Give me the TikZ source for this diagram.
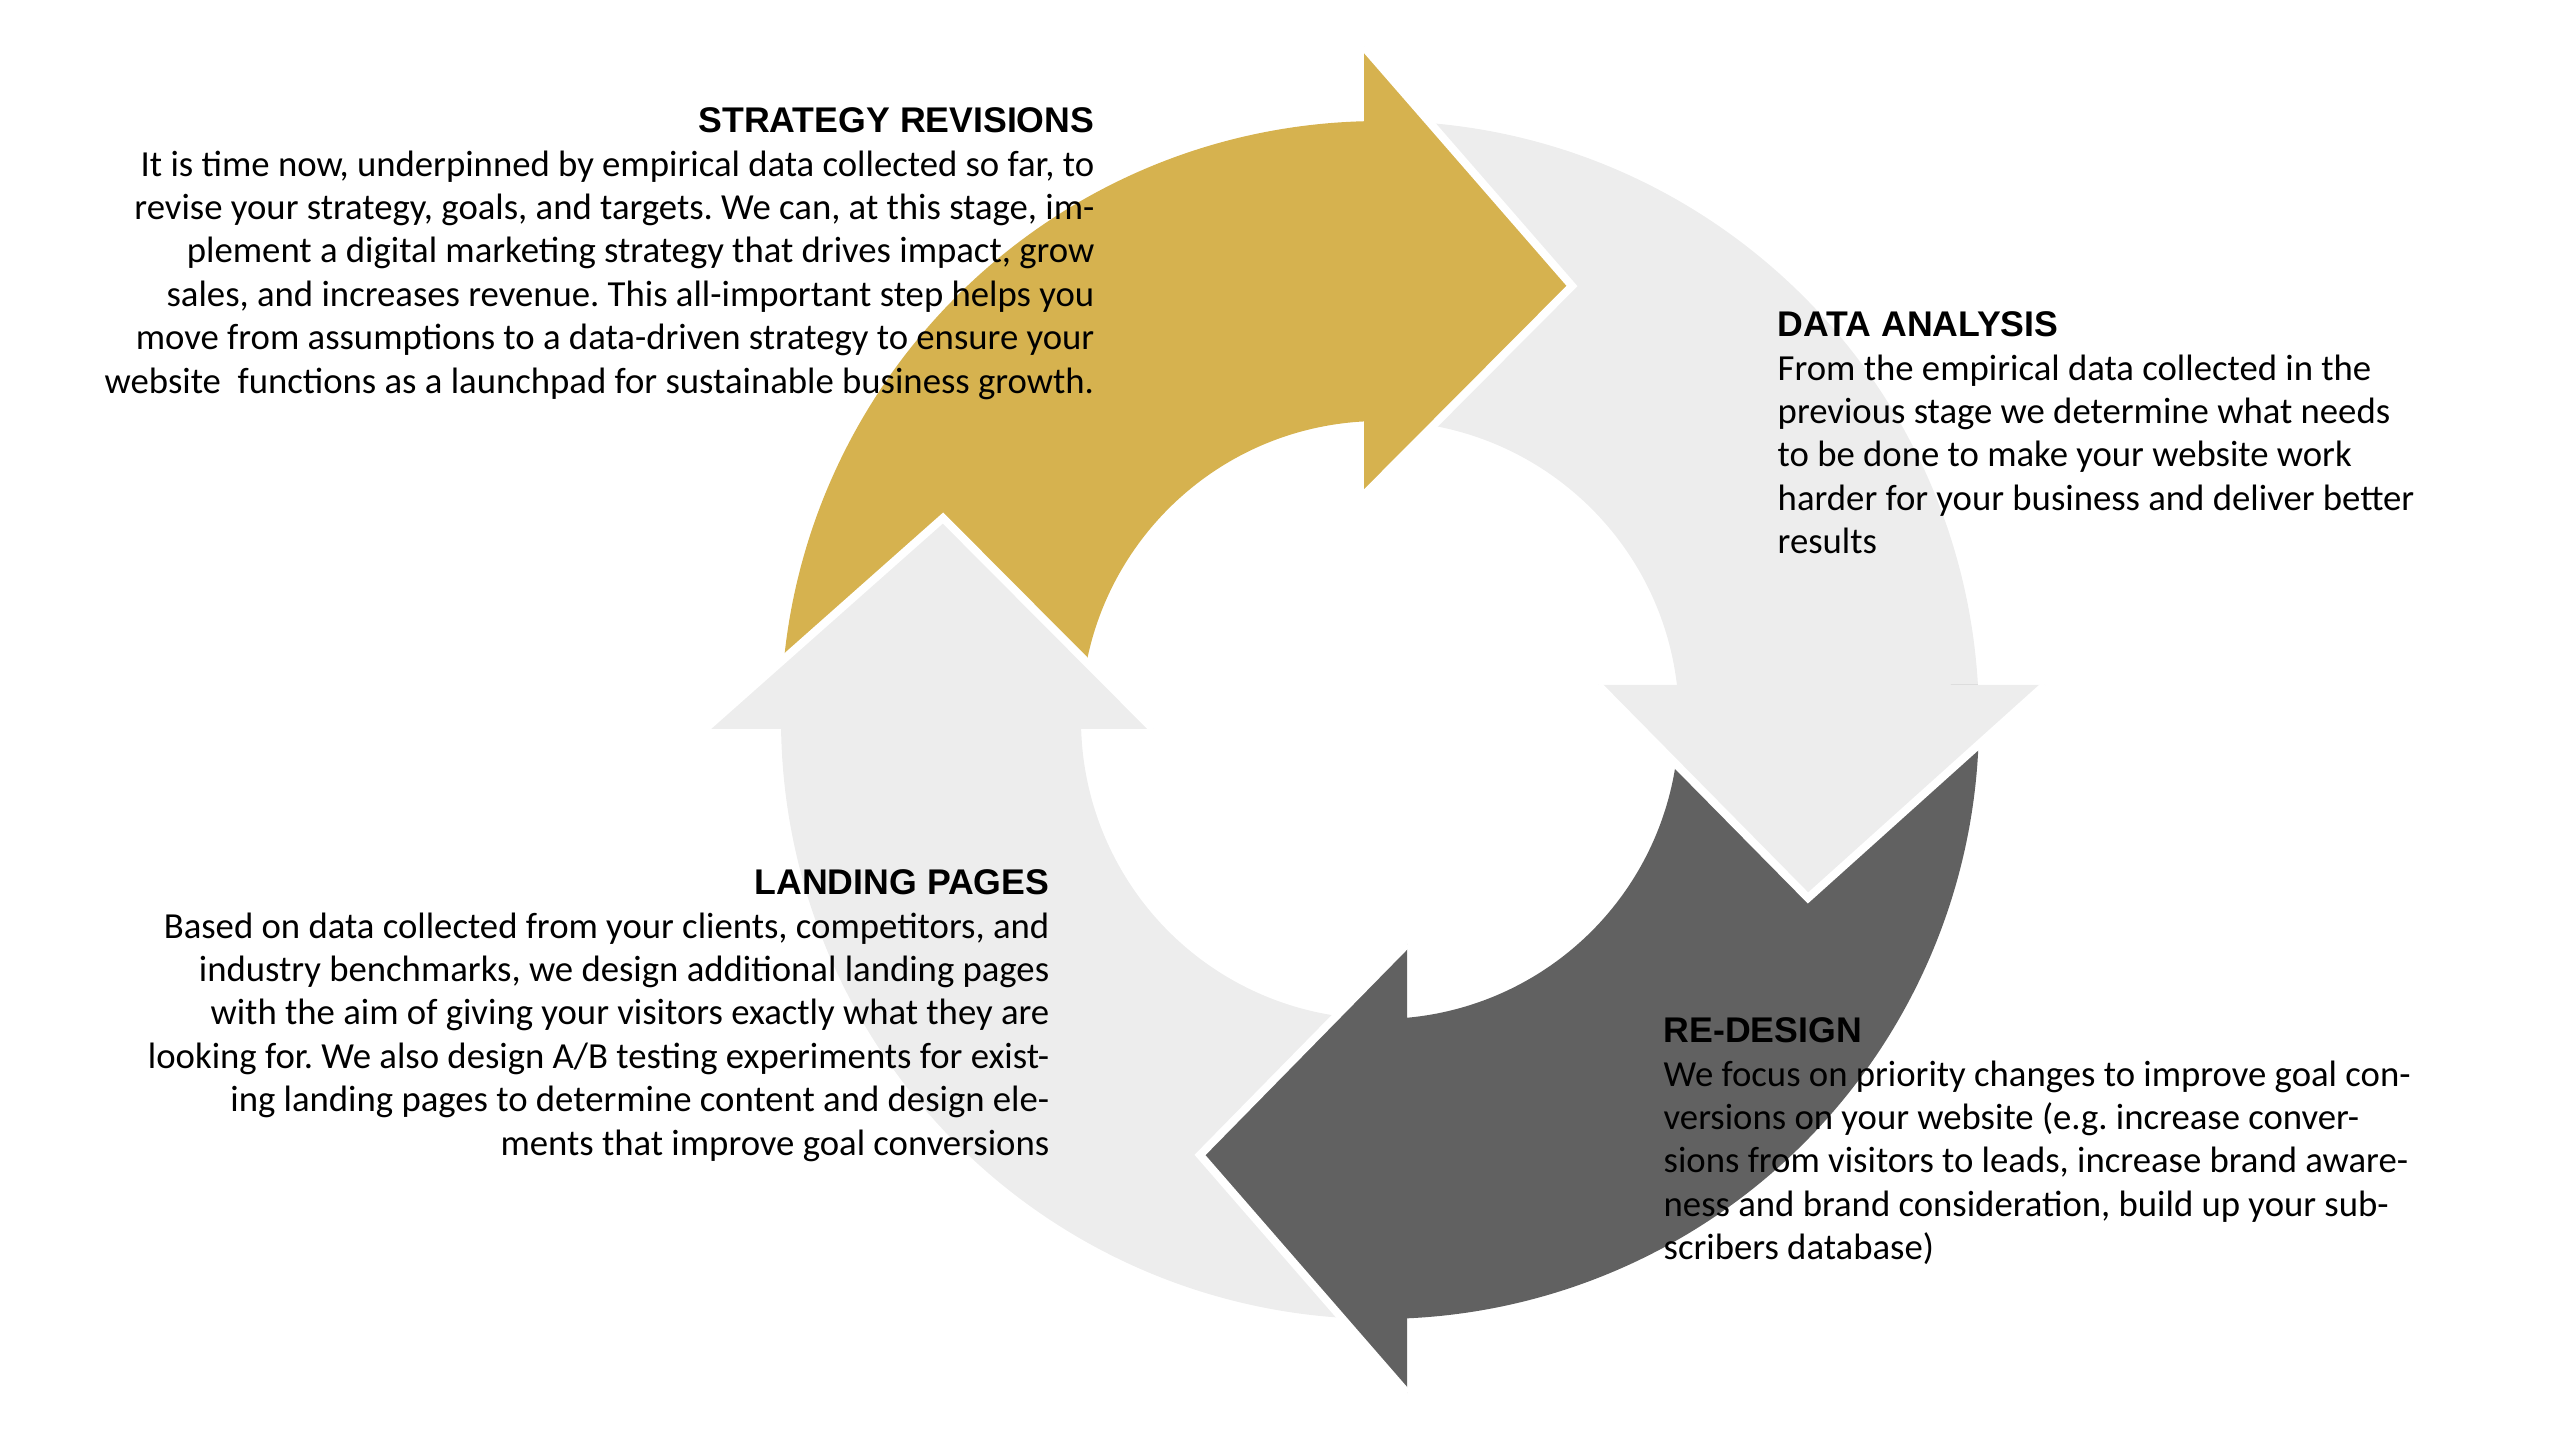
\documentclass[tikz,border=0pt]{standalone}
\usepackage{fontspec}
\setmainfont{Carlito}
\newfontfamily\headfont{Liberation Sans}
\usetikzlibrary{calc}
\definecolor{cgold}{HTML}{D6B24F}
\definecolor{clight}{HTML}{EDEDED}
\definecolor{cdark}{HTML}{616161}
\newcommand{\hfont}{\headfont\bfseries\fontsize{10.15}{12.35}\selectfont}
\frenchspacing

\begin{document}
\begin{tikzpicture}[x=0.1mm,y=0.1mm,
  txt/.style={font=\fontsize{10.45}{12.35}\selectfont},
  gapside/.style={draw=white, line width=0.8mm, line join=miter}]
\tikzstyle{every node}+=[inner sep=0pt]
\useasboundingbox (0,0) rectangle (2560,-1440);
\coordinate (c) at (1380,-720);
\fill [cgold] (c) ++(180.86:599) arc [start angle=180.86, end angle=91.53, radius=599]
  -- ($(c)+(93.07:299)$) arc [start angle=93.07, end angle=181.72, radius=299] -- cycle;
\fill [clight] (c) ++(91.53:599) arc [start angle=91.53, end angle=3.35, radius=599]
  -- ($(c)+(6.72:299)$) arc [start angle=6.72, end angle=93.07, radius=299] -- cycle;
\fill [cdark] (c) ++(3.35:599) arc [start angle=3.35, end angle=-87.42, radius=599]
  -- ($(c)+(-84.82:299)$) arc [start angle=-84.82, end angle=6.72, radius=299] -- cycle;
\fill [clight] (c) ++(-87.42:599) arc [start angle=-87.42, end angle=-179.14, radius=599]
  -- ($(c)+(-178.28:299)$) arc [start angle=-178.28, end angle=-84.82, radius=299] -- cycle;
\fill [cgold] (1364,-47) -- (1572,-286) -- (1364,-495) -- cycle;
\draw [gapside] (1364,-47) -- (1572,-286) -- (1364,-495);
\fill [clight] (2045,-685) -- (1808,-898) -- (1598,-685) -- cycle;
\draw [gapside] (2045,-685) -- (1808,-898) -- (1598,-685);
\fill [cdark] (1407,-1393) -- (1200,-1155) -- (1407,-944) -- cycle;
\draw [gapside] (1407,-1393) -- (1200,-1155) -- (1407,-944);
\fill [clight] (705,-729) -- (943,-518) -- (1153,-729) -- cycle;
\draw [gapside] (705,-729) -- (943,-518) -- (1153,-729);
\node (strategy) [txt, align=right, anchor=north east] at (1095,-107) {{\hfont STRATEGY REVISIONS}\\
It is time now, underpinned by empirical data collected so far, to\\
revise your strategy, goals, and targets. We can, at this stage, im-\\
plement a digital marketing strategy that drives impact, grow\\
sales, and increases revenue. This all-important step helps you\\
move from assumptions to a data-driven strategy to ensure your\\
website\ \ functions as a launchpad for sustainable business growth.};
\node (analysis) [txt, align=left, anchor=north west] at (1777,-311) {{\hfont DATA ANALYSIS}\\
From the empirical data collected in the\\
previous stage we determine what needs\\
to be done to make your website work\\
harder for your business and deliver better\\
results};
\node (redesign) [txt, align=left, anchor=north west] at (1663,-1017) {{\hfont RE-DESIGN}\\
We focus on priority changes to improve goal con-\\
versions on your website (e.g. increase conver-\\
sions from visitors to leads, increase brand aware-\\
ness and brand consideration, build up your sub-\\
scribers database)};
\node (landing) [txt, align=right, anchor=north east] at (1050,-869) {{\hfont LANDING PAGES}\\
Based on data collected from your clients, competitors, and\\
industry benchmarks, we design additional landing pages\\
with the aim of giving your visitors exactly what they are\\
looking for. We also design A/B testing experiments for exist-\\
ing landing pages to determine content and design ele-\\
ments that improve goal conversions};
\end{tikzpicture}
\end{document}
